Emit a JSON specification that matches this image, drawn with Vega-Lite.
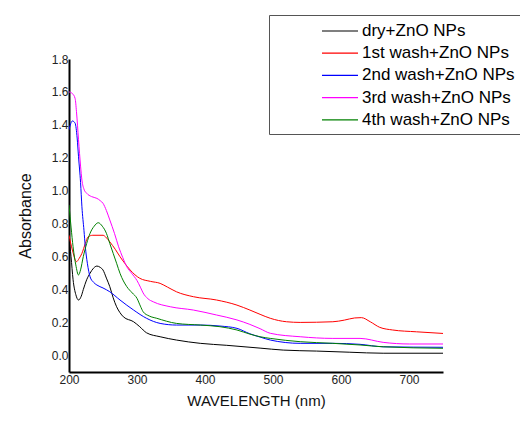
{
  "$schema": "https://vega.github.io/schema/vega-lite/v6.json",
  "autosize": {"type": "none"},
  "width": 374,
  "height": 313,
  "padding": {"left": 69, "top": 59, "right": 77, "bottom": 49},
  "background": "white",
  "config": {
    "view": {"stroke": null},
    "font": "Liberation Sans"
  },
  "datasets": {
    "spectra": [
      {"nm": 200, "A": 0.72, "s": "dry+ZnO NPs"},
      {"nm": 203, "A": 0.60, "s": "dry+ZnO NPs"},
      {"nm": 206, "A": 0.46, "s": "dry+ZnO NPs"},
      {"nm": 210, "A": 0.37, "s": "dry+ZnO NPs"},
      {"nm": 214, "A": 0.337, "s": "dry+ZnO NPs"},
      {"nm": 218, "A": 0.36, "s": "dry+ZnO NPs"},
      {"nm": 221, "A": 0.40, "s": "dry+ZnO NPs"},
      {"nm": 226, "A": 0.46, "s": "dry+ZnO NPs"},
      {"nm": 231, "A": 0.50, "s": "dry+ZnO NPs"},
      {"nm": 236, "A": 0.53, "s": "dry+ZnO NPs"},
      {"nm": 241, "A": 0.543, "s": "dry+ZnO NPs"},
      {"nm": 246, "A": 0.535, "s": "dry+ZnO NPs"},
      {"nm": 250, "A": 0.519, "s": "dry+ZnO NPs"},
      {"nm": 255, "A": 0.47, "s": "dry+ZnO NPs"},
      {"nm": 260, "A": 0.418, "s": "dry+ZnO NPs"},
      {"nm": 265, "A": 0.35, "s": "dry+ZnO NPs"},
      {"nm": 270, "A": 0.296, "s": "dry+ZnO NPs"},
      {"nm": 275, "A": 0.26, "s": "dry+ZnO NPs"},
      {"nm": 280, "A": 0.235, "s": "dry+ZnO NPs"},
      {"nm": 295, "A": 0.205, "s": "dry+ZnO NPs"},
      {"nm": 304, "A": 0.175, "s": "dry+ZnO NPs"},
      {"nm": 314, "A": 0.138, "s": "dry+ZnO NPs"},
      {"nm": 334, "A": 0.114, "s": "dry+ZnO NPs"},
      {"nm": 358, "A": 0.094, "s": "dry+ZnO NPs"},
      {"nm": 393, "A": 0.074, "s": "dry+ZnO NPs"},
      {"nm": 432, "A": 0.062, "s": "dry+ZnO NPs"},
      {"nm": 481, "A": 0.045, "s": "dry+ZnO NPs"},
      {"nm": 515, "A": 0.033, "s": "dry+ZnO NPs"},
      {"nm": 564, "A": 0.027, "s": "dry+ZnO NPs"},
      {"nm": 613, "A": 0.02, "s": "dry+ZnO NPs"},
      {"nm": 662, "A": 0.014, "s": "dry+ZnO NPs"},
      {"nm": 750, "A": 0.014, "s": "dry+ZnO NPs"},

      {"nm": 200, "A": 0.73, "s": "1st wash+ZnO NPs"},
      {"nm": 205, "A": 0.64, "s": "1st wash+ZnO NPs"},
      {"nm": 211, "A": 0.57, "s": "1st wash+ZnO NPs"},
      {"nm": 215, "A": 0.59, "s": "1st wash+ZnO NPs"},
      {"nm": 219, "A": 0.62, "s": "1st wash+ZnO NPs"},
      {"nm": 224, "A": 0.68, "s": "1st wash+ZnO NPs"},
      {"nm": 228, "A": 0.72, "s": "1st wash+ZnO NPs"},
      {"nm": 235, "A": 0.73, "s": "1st wash+ZnO NPs"},
      {"nm": 250, "A": 0.73, "s": "1st wash+ZnO NPs"},
      {"nm": 255, "A": 0.715, "s": "1st wash+ZnO NPs"},
      {"nm": 260, "A": 0.69, "s": "1st wash+ZnO NPs"},
      {"nm": 268, "A": 0.645, "s": "1st wash+ZnO NPs"},
      {"nm": 275, "A": 0.60, "s": "1st wash+ZnO NPs"},
      {"nm": 282, "A": 0.56, "s": "1st wash+ZnO NPs"},
      {"nm": 290, "A": 0.519, "s": "1st wash+ZnO NPs"},
      {"nm": 297, "A": 0.49, "s": "1st wash+ZnO NPs"},
      {"nm": 304, "A": 0.469, "s": "1st wash+ZnO NPs"},
      {"nm": 320, "A": 0.45, "s": "1st wash+ZnO NPs"},
      {"nm": 334, "A": 0.438, "s": "1st wash+ZnO NPs"},
      {"nm": 345, "A": 0.415, "s": "1st wash+ZnO NPs"},
      {"nm": 358, "A": 0.387, "s": "1st wash+ZnO NPs"},
      {"nm": 383, "A": 0.357, "s": "1st wash+ZnO NPs"},
      {"nm": 417, "A": 0.337, "s": "1st wash+ZnO NPs"},
      {"nm": 447, "A": 0.306, "s": "1st wash+ZnO NPs"},
      {"nm": 466, "A": 0.276, "s": "1st wash+ZnO NPs"},
      {"nm": 481, "A": 0.25, "s": "1st wash+ZnO NPs"},
      {"nm": 496, "A": 0.226, "s": "1st wash+ZnO NPs"},
      {"nm": 520, "A": 0.205, "s": "1st wash+ZnO NPs"},
      {"nm": 540, "A": 0.201, "s": "1st wash+ZnO NPs"},
      {"nm": 588, "A": 0.205, "s": "1st wash+ZnO NPs"},
      {"nm": 605, "A": 0.215, "s": "1st wash+ZnO NPs"},
      {"nm": 620, "A": 0.228, "s": "1st wash+ZnO NPs"},
      {"nm": 630, "A": 0.23, "s": "1st wash+ZnO NPs"},
      {"nm": 643, "A": 0.205, "s": "1st wash+ZnO NPs"},
      {"nm": 657, "A": 0.171, "s": "1st wash+ZnO NPs"},
      {"nm": 676, "A": 0.155, "s": "1st wash+ZnO NPs"},
      {"nm": 711, "A": 0.144, "s": "1st wash+ZnO NPs"},
      {"nm": 750, "A": 0.134, "s": "1st wash+ZnO NPs"},

      {"nm": 200, "A": 1.37, "s": "2nd wash+ZnO NPs"},
      {"nm": 205, "A": 1.424, "s": "2nd wash+ZnO NPs"},
      {"nm": 209, "A": 1.41, "s": "2nd wash+ZnO NPs"},
      {"nm": 212, "A": 1.32, "s": "2nd wash+ZnO NPs"},
      {"nm": 214, "A": 1.207, "s": "2nd wash+ZnO NPs"},
      {"nm": 217, "A": 1.05, "s": "2nd wash+ZnO NPs"},
      {"nm": 219, "A": 0.903, "s": "2nd wash+ZnO NPs"},
      {"nm": 222, "A": 0.76, "s": "2nd wash+ZnO NPs"},
      {"nm": 224, "A": 0.66, "s": "2nd wash+ZnO NPs"},
      {"nm": 227, "A": 0.56, "s": "2nd wash+ZnO NPs"},
      {"nm": 231, "A": 0.478, "s": "2nd wash+ZnO NPs"},
      {"nm": 236, "A": 0.445, "s": "2nd wash+ZnO NPs"},
      {"nm": 241, "A": 0.428, "s": "2nd wash+ZnO NPs"},
      {"nm": 250, "A": 0.41, "s": "2nd wash+ZnO NPs"},
      {"nm": 260, "A": 0.387, "s": "2nd wash+ZnO NPs"},
      {"nm": 275, "A": 0.337, "s": "2nd wash+ZnO NPs"},
      {"nm": 295, "A": 0.276, "s": "2nd wash+ZnO NPs"},
      {"nm": 314, "A": 0.226, "s": "2nd wash+ZnO NPs"},
      {"nm": 334, "A": 0.195, "s": "2nd wash+ZnO NPs"},
      {"nm": 358, "A": 0.185, "s": "2nd wash+ZnO NPs"},
      {"nm": 393, "A": 0.185, "s": "2nd wash+ZnO NPs"},
      {"nm": 422, "A": 0.179, "s": "2nd wash+ZnO NPs"},
      {"nm": 447, "A": 0.165, "s": "2nd wash+ZnO NPs"},
      {"nm": 466, "A": 0.132, "s": "2nd wash+ZnO NPs"},
      {"nm": 481, "A": 0.112, "s": "2nd wash+ZnO NPs"},
      {"nm": 496, "A": 0.094, "s": "2nd wash+ZnO NPs"},
      {"nm": 540, "A": 0.074, "s": "2nd wash+ZnO NPs"},
      {"nm": 588, "A": 0.074, "s": "2nd wash+ZnO NPs"},
      {"nm": 628, "A": 0.068, "s": "2nd wash+ZnO NPs"},
      {"nm": 662, "A": 0.053, "s": "2nd wash+ZnO NPs"},
      {"nm": 750, "A": 0.05, "s": "2nd wash+ZnO NPs"},

      {"nm": 200, "A": 1.60, "s": "3rd wash+ZnO NPs"},
      {"nm": 205, "A": 1.59, "s": "3rd wash+ZnO NPs"},
      {"nm": 209, "A": 1.56, "s": "3rd wash+ZnO NPs"},
      {"nm": 211, "A": 1.48, "s": "3rd wash+ZnO NPs"},
      {"nm": 214, "A": 1.31, "s": "3rd wash+ZnO NPs"},
      {"nm": 217, "A": 1.15, "s": "3rd wash+ZnO NPs"},
      {"nm": 219, "A": 1.065, "s": "3rd wash+ZnO NPs"},
      {"nm": 222, "A": 1.01, "s": "3rd wash+ZnO NPs"},
      {"nm": 226, "A": 0.985, "s": "3rd wash+ZnO NPs"},
      {"nm": 233, "A": 0.965, "s": "3rd wash+ZnO NPs"},
      {"nm": 241, "A": 0.954, "s": "3rd wash+ZnO NPs"},
      {"nm": 246, "A": 0.94, "s": "3rd wash+ZnO NPs"},
      {"nm": 250, "A": 0.924, "s": "3rd wash+ZnO NPs"},
      {"nm": 255, "A": 0.88, "s": "3rd wash+ZnO NPs"},
      {"nm": 260, "A": 0.823, "s": "3rd wash+ZnO NPs"},
      {"nm": 267, "A": 0.74, "s": "3rd wash+ZnO NPs"},
      {"nm": 273, "A": 0.66, "s": "3rd wash+ZnO NPs"},
      {"nm": 279, "A": 0.595, "s": "3rd wash+ZnO NPs"},
      {"nm": 285, "A": 0.539, "s": "3rd wash+ZnO NPs"},
      {"nm": 292, "A": 0.50, "s": "3rd wash+ZnO NPs"},
      {"nm": 300, "A": 0.455, "s": "3rd wash+ZnO NPs"},
      {"nm": 305, "A": 0.415, "s": "3rd wash+ZnO NPs"},
      {"nm": 309, "A": 0.38, "s": "3rd wash+ZnO NPs"},
      {"nm": 316, "A": 0.345, "s": "3rd wash+ZnO NPs"},
      {"nm": 324, "A": 0.326, "s": "3rd wash+ZnO NPs"},
      {"nm": 349, "A": 0.296, "s": "3rd wash+ZnO NPs"},
      {"nm": 383, "A": 0.276, "s": "3rd wash+ZnO NPs"},
      {"nm": 417, "A": 0.246, "s": "3rd wash+ZnO NPs"},
      {"nm": 447, "A": 0.216, "s": "3rd wash+ZnO NPs"},
      {"nm": 466, "A": 0.189, "s": "3rd wash+ZnO NPs"},
      {"nm": 481, "A": 0.163, "s": "3rd wash+ZnO NPs"},
      {"nm": 496, "A": 0.135, "s": "3rd wash+ZnO NPs"},
      {"nm": 540, "A": 0.114, "s": "3rd wash+ZnO NPs"},
      {"nm": 588, "A": 0.104, "s": "3rd wash+ZnO NPs"},
      {"nm": 628, "A": 0.104, "s": "3rd wash+ZnO NPs"},
      {"nm": 662, "A": 0.08, "s": "3rd wash+ZnO NPs"},
      {"nm": 701, "A": 0.07, "s": "3rd wash+ZnO NPs"},
      {"nm": 750, "A": 0.07, "s": "3rd wash+ZnO NPs"},

      {"nm": 200, "A": 0.914, "s": "4th wash+ZnO NPs"},
      {"nm": 203, "A": 0.78, "s": "4th wash+ZnO NPs"},
      {"nm": 206, "A": 0.66, "s": "4th wash+ZnO NPs"},
      {"nm": 210, "A": 0.55, "s": "4th wash+ZnO NPs"},
      {"nm": 214, "A": 0.489, "s": "4th wash+ZnO NPs"},
      {"nm": 217, "A": 0.52, "s": "4th wash+ZnO NPs"},
      {"nm": 221, "A": 0.60, "s": "4th wash+ZnO NPs"},
      {"nm": 226, "A": 0.68, "s": "4th wash+ZnO NPs"},
      {"nm": 231, "A": 0.742, "s": "4th wash+ZnO NPs"},
      {"nm": 237, "A": 0.785, "s": "4th wash+ZnO NPs"},
      {"nm": 243, "A": 0.806, "s": "4th wash+ZnO NPs"},
      {"nm": 249, "A": 0.785, "s": "4th wash+ZnO NPs"},
      {"nm": 255, "A": 0.742, "s": "4th wash+ZnO NPs"},
      {"nm": 260, "A": 0.68, "s": "4th wash+ZnO NPs"},
      {"nm": 265, "A": 0.62, "s": "4th wash+ZnO NPs"},
      {"nm": 270, "A": 0.56, "s": "4th wash+ZnO NPs"},
      {"nm": 275, "A": 0.499, "s": "4th wash+ZnO NPs"},
      {"nm": 285, "A": 0.418, "s": "4th wash+ZnO NPs"},
      {"nm": 293, "A": 0.38, "s": "4th wash+ZnO NPs"},
      {"nm": 300, "A": 0.347, "s": "4th wash+ZnO NPs"},
      {"nm": 305, "A": 0.30, "s": "4th wash+ZnO NPs"},
      {"nm": 309, "A": 0.266, "s": "4th wash+ZnO NPs"},
      {"nm": 318, "A": 0.24, "s": "4th wash+ZnO NPs"},
      {"nm": 329, "A": 0.226, "s": "4th wash+ZnO NPs"},
      {"nm": 358, "A": 0.195, "s": "4th wash+ZnO NPs"},
      {"nm": 393, "A": 0.185, "s": "4th wash+ZnO NPs"},
      {"nm": 422, "A": 0.175, "s": "4th wash+ZnO NPs"},
      {"nm": 447, "A": 0.155, "s": "4th wash+ZnO NPs"},
      {"nm": 466, "A": 0.13, "s": "4th wash+ZnO NPs"},
      {"nm": 481, "A": 0.114, "s": "4th wash+ZnO NPs"},
      {"nm": 496, "A": 0.104, "s": "4th wash+ZnO NPs"},
      {"nm": 540, "A": 0.084, "s": "4th wash+ZnO NPs"},
      {"nm": 588, "A": 0.074, "s": "4th wash+ZnO NPs"},
      {"nm": 628, "A": 0.064, "s": "4th wash+ZnO NPs"},
      {"nm": 662, "A": 0.053, "s": "4th wash+ZnO NPs"},
      {"nm": 750, "A": 0.044, "s": "4th wash+ZnO NPs"}
    ]
  },
  "data": {"name": "spectra"},
  "mark": {"type": "line", "strokeWidth": 1, "interpolate": "monotone", "clip": true},
  "encoding": {
    "x": {
      "field": "nm",
      "type": "quantitative",
      "scale": {"domain": [200, 750], "nice": false, "zero": false},
      "axis": {
        "title": "WAVELENGTH (nm)",
        "values": [200, 300, 400, 500, 600, 700],
        "ticks": false,
        "grid": false,
        "domainColor": "#000000",
        "domainWidth": 2,
        "labelFont": "Liberation Sans",
        "labelFontSize": 12,
        "labelColor": "#222222",
        "labelPadding": 2,
        "labelFlush": false,
        "titleFont": "Liberation Sans",
        "titleFontSize": 15,
        "titleFontWeight": "normal",
        "titleColor": "#111111",
        "titlePadding": 8
      }
    },
    "y": {
      "field": "A",
      "type": "quantitative",
      "scale": {"domain": [-0.1, 1.8], "nice": false, "zero": false},
      "axis": {
        "title": "Absorbance",
        "values": [0, 0.2, 0.4, 0.6, 0.8, 1.0, 1.2, 1.4, 1.6, 1.8],
        "format": ".1f",
        "ticks": false,
        "grid": false,
        "domainColor": "#000000",
        "domainWidth": 2,
        "labelFont": "Liberation Sans",
        "labelFontSize": 12,
        "labelColor": "#222222",
        "labelPadding": 1,
        "labelFlush": false,
        "titleFont": "Liberation Sans",
        "titleFontSize": 16,
        "titleFontWeight": "normal",
        "titleColor": "#111111",
        "titlePadding": 18
      }
    },
    "color": {
      "field": "s",
      "type": "nominal",
      "scale": {
        "domain": ["dry+ZnO NPs", "1st wash+ZnO NPs", "2nd wash+ZnO NPs", "3rd wash+ZnO NPs", "4th wash+ZnO NPs"],
        "range": ["#000000", "#ff0000", "#0000ff", "#ff00ff", "#008000"]
      },
      "legend": {
        "title": null,
        "orient": "none",
        "legendX": 200,
        "legendY": -44,
        "symbolType": "M-2,0H2",
        "symbolSize": 324,
        "symbolStrokeWidth": 1.2,
        "symbolOffset": 55,
        "labelOffset": 12,
        "labelFont": "Liberation Sans",
        "labelFontSize": 17,
        "labelColor": "#000000",
        "labelLimit": 300,
        "padding": 6,
        "rowPadding": 4.2,
        "strokeColor": "#555555",
        "fillColor": "#ffffff"
      }
    }
  }
}
